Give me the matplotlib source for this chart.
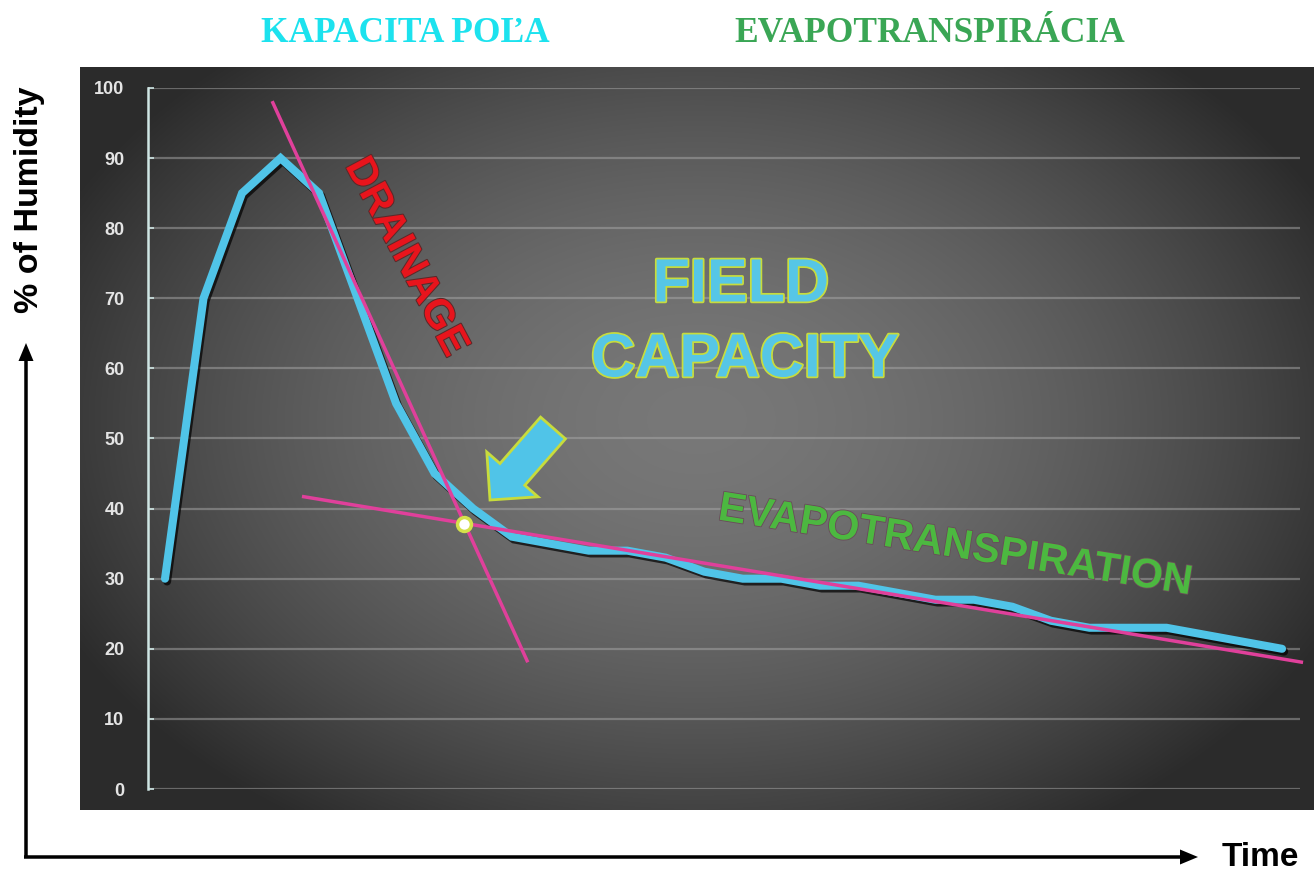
import numpy as np
import matplotlib
matplotlib.use("Agg")
import matplotlib.pyplot as plt
import matplotlib.patheffects as pe
from matplotlib.patches import FancyArrow

# ---------------- data ----------------
time_idx = list(range(30))
humidity = [30, 70, 85, 90, 85, 70, 55, 45, 40, 36,
            35, 34, 34, 33, 31, 30, 30, 29, 29, 28,
            27, 27, 26, 24, 23, 23, 23, 22, 21, 20]
y_ticks = [0, 10, 20, 30, 40, 50, 60, 70, 80, 90, 100]

drain_x = [2.8, 9.4]
drain_y = [97.9, 18.3]
evap_x = [3.6, 29.5]
evap_y = [41.7, 18.1]
fc_point_x = [7.75]
fc_point_y = [37.8]

title_left = "KAPACITA POĽA"
title_right = "EVAPOTRANSPIRÁCIA"
ylabel = "% of Humidity"
xlabel = "Time"

W, H = 1314, 877
fig = plt.figure(figsize=(W / 100, H / 100), dpi=100)
fig.patch.set_facecolor("white")

# ---------------- dark gradient panel ----------------
px0, px1, py0, py1 = 80, 1314, 67, 810
bg = fig.add_axes([px0 / W, 1 - py1 / H, (px1 - px0) / W, (py1 - py0) / H])
u = np.linspace(-1, 1, 400)
v = np.linspace(-1, 1, 300)
U, V = np.meshgrid(u, v)
R = np.sqrt(((U - 0.0) / 1.05) ** 2 + ((V + 0.05) / 1.2) ** 2)
g = np.clip(0.47 - 0.26 * R ** 1.7, 0.17, 1)
bg.imshow(np.dstack([g, g, g]), aspect="auto", extent=[0, 1, 0, 1], interpolation="bilinear")
bg.set_axis_off()

# ---------------- data axes ----------------
ax_l, ax_r, ax_t, ax_b = 148, 1300, 88, 789
ax = fig.add_axes([ax_l / W, 1 - ax_b / H, (ax_r - ax_l) / W, (ax_b - ax_t) / H])
ax.set_facecolor("none")
step = 38.52
ax.set_xlim(-(165 - ax_l) / step, (ax_r - 165) / step)
ax.set_ylim(0, 100)
ax.set_yticks(y_ticks)
ax.set_xticks([])
for s in ["top", "right", "bottom"]:
    ax.spines[s].set_visible(False)
ax.spines["left"].set_color("#cfe6e4")
ax.spines["left"].set_linewidth(1.8)
ax.tick_params(axis="y", direction="in", length=4, width=1.2, color="#cfe6e4",
               labelcolor="#e4e4e4", labelsize=13, pad=17)
for lab in ax.get_yticklabels():
    lab.set_fontfamily("Liberation Sans")
    lab.set_fontweight("bold")
ax.yaxis.grid(True, color="#a8a8a8", alpha=0.5, linewidth=1.6)
ax.set_axisbelow(True)

ax.plot(time_idx, humidity, color="#50c4e8", linewidth=5.8, solid_capstyle="round",
        solid_joinstyle="miter", zorder=3,
        path_effects=[pe.SimpleLineShadow(offset=(1.5, -2), shadow_color="black", alpha=0.7),
                      pe.Normal()])
ax.plot(drain_x, drain_y, color="#e0409b", linewidth=2.5, zorder=4, clip_on=False)
ax.plot(evap_x, evap_y, color="#e0409b", linewidth=2.5, zorder=4, clip_on=False)
ax.plot(fc_point_x, fc_point_y, "o", markersize=10, markerfacecolor="white",
        markeredgecolor="#d4e04a", markeredgewidth=2.5, zorder=5, clip_on=False)

# ---------------- overlay for annotations (pixel coords) ----------------
ov = fig.add_axes([0, 0, 1, 1])
ov.set_xlim(0, W)
ov.set_ylim(H, 0)
ov.set_axis_off()
ov.set_facecolor("none")

ov.text(405, 42, title_left, color="#1ce2ee", fontsize=25.5, fontweight="bold",
        family="Liberation Serif", ha="center", va="baseline")
ov.text(930, 42, title_right, color="#3aa655", fontsize=25.5, fontweight="bold",
        family="Liberation Serif", ha="center", va="baseline")

ov.text(30, 200, ylabel, rotation=90, color="black", fontsize=24.5, fontweight="bold",
        family="Liberation Sans", ha="center", va="center")
ov.text(1260, 858, xlabel, color="black", fontsize=24, fontweight="bold",
        family="Liberation Sans", ha="center", va="center")

# axis arrows
ov.add_patch(FancyArrow(26, 857, 0, -514, width=3.5, head_width=15, head_length=18,
                        length_includes_head=True, color="black", lw=0))
ov.add_patch(FancyArrow(24, 857, 1174, 0, width=3.5, head_width=15, head_length=18,
                        length_includes_head=True, color="black", lw=0))

# labels inside the chart
ov.text(406, 257, "DRAINAGE", rotation=-62, rotation_mode="anchor", color="#e8141c",
        fontsize=29.5, fontweight="bold", family="Liberation Sans", ha="center", va="center",
        path_effects=[pe.withStroke(linewidth=1.5, foreground="#5a2a2a")])

fc_effects = [pe.withStroke(linewidth=2.5, foreground="#c8dc3c")]
ov.text(741, 286, "FIELD", color="#56c6e6", fontsize=44, fontweight="bold",
        family="Liberation Sans", ha="center", va="center", path_effects=fc_effects)
ov.text(745, 361, "CAPACITY", color="#56c6e6", fontsize=44, fontweight="bold",
        family="Liberation Sans", ha="center", va="center", path_effects=fc_effects)

ov.text(955, 546, "EVAPOTRANSPIRATION", rotation=-9, rotation_mode="anchor",
        color="#4cb840", fontsize=29.8, fontweight="bold", family="Liberation Sans",
        ha="center", va="center",
        path_effects=[pe.withStroke(linewidth=1.2, foreground="#6a4a5a")])

# block arrow pointing at the field-capacity point
ov.add_patch(FancyArrow(553, 428, -63, 72, width=33, head_width=68, head_length=34,
                        length_includes_head=True, facecolor="#50c4e8",
                        edgecolor="#c8dc3c", linewidth=2, joinstyle="miter"))

fig.savefig("out.png", dpi=100)
